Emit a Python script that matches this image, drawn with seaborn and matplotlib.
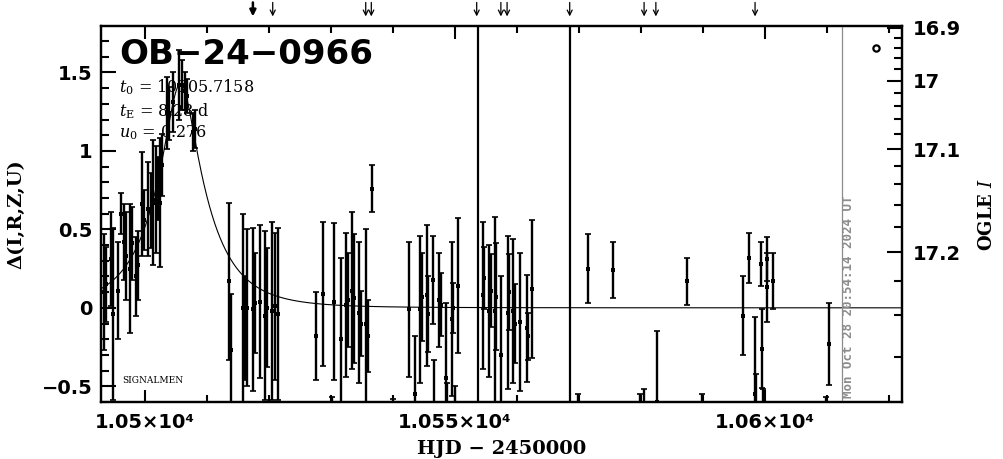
import matplotlib
matplotlib.use("Agg")
import matplotlib.pyplot as plt
import seaborn as sns
from matplotlib.ticker import MultipleLocator, FixedLocator

import numpy as np
import pandas as pd

sns.set_theme(style="ticks")
plt.rcParams['font.family'] = ['DejaVu Sans']
plt.rcParams['mathtext.fontset'] = 'dejavuserif'
for key in ['text.color', 'axes.labelcolor', 'xtick.color', 'ytick.color', 'axes.edgecolor']:
    plt.rcParams[key] = 'black'

# fit parameters shown in the panel
event = "OB\u221224\u22120966"
t0 = 10505.7158
tE = 8.28
u0 = 0.276
fs = 0.087        # source fraction used for the OGLE I scale
I_base = 17.236   # baseline magnitude

# photometry: HJD-2450000, delta, error
hjd = [10493.4, 10493.7, 10494.5, 10494.8, 10495.6, 10496.1, 10496.6, 10496.9, 10497.6, 10497.9,
       10498.5, 10498.9, 10499.5, 10499.8, 10500.5, 10501.0, 10501.3, 10501.8, 10502.1, 10502.4,
       10502.7, 10503.5, 10503.9, 10504.5, 10505.5, 10506.0, 10506.5, 10506.8, 10507.7, 10508.1,
       10513.5, 10513.9, 10515.8, 10516.1, 10516.5, 10517.4, 10517.7, 10518.5, 10519.4, 10519.7,
       10520.5, 10521.0, 10521.5, 10527.6, 10528.7, 10530.2, 10530.5, 10531.6, 10532.4, 10532.7,
       10533.4, 10533.7, 10534.5, 10534.8, 10535.6, 10536.0, 10536.6, 10540.0, 10542.6, 10543.5,
       10544.4, 10544.7, 10545.5, 10545.6, 10546.5, 10546.6, 10547.4, 10547.7, 10548.5, 10548.7,
       10549.5, 10549.7, 10550.0, 10550.5, 10554.5, 10554.7, 10555.5, 10555.8, 10556.5, 10556.6,
       10557.4, 10558.5, 10558.7, 10559.4, 10559.7, 10560.5, 10561.6, 10561.8, 10562.4, 10569.8,
       10571.5, 10575.5, 10579.8, 10580.5, 10582.6, 10587.4, 10589.8, 10596.5, 10597.4, 10598.4,
       10598.5, 10599.4, 10599.5, 10599.7, 10600.3, 10600.4, 10601.3, 10609.8, 10610.3]
delta = [0.10, 0.15, 0.31, -0.04, 0.11, 0.60, 0.42, 0.33, 0.25, 0.41,
         0.20, 0.27, 0.66, 0.56, 0.63, 0.62, 0.67, 0.69, 0.76, 0.67,
         0.91, 1.24, 1.24, 1.31, 1.42, 1.42, 1.38, 1.35, 1.12, 1.14,
         0.17, -0.27, 0.00, -0.13, 0.00, -0.01, 0.03, 0.04, -0.05, 0.00,
         -0.02, 0.01, -0.04, -0.18, 0.09, -0.95, 0.04, -0.20, 0.02, 0.05,
         0.11, 0.06, -0.03, -0.10, -0.10, -0.18, 0.76, -0.95, -0.01, -0.55,
         -0.01, 0.07, 0.08, -0.04, 0.18, -0.80, 0.05, 0.02, -0.45, -0.90,
         -0.07, 0.00, -0.90, 0.14, 0.08, 0.19, -0.02, 0.11, -0.02, 0.07,
         -0.30, -0.03, 0.10, -0.02, -0.10, -0.09, -0.13, -0.18, 0.12, -0.95,
         0.25, 0.24, -0.95, -0.90, -0.60, 0.17, -0.95, -0.05, 0.32, -0.55,
         -0.85, 0.28, -0.26, -0.90, 0.31, 0.13, 0.17, -0.95, -0.23]
err = [0.37, 0.24, 0.30, 0.55, 0.31, 0.13, 0.24, 0.28, 0.41, 0.23,
       0.25, 0.22, 0.33, 0.19, 0.30, 0.24, 0.40, 0.34, 0.20, 0.41,
       0.20, 0.23, 0.17, 0.19, 0.22, 0.16, 0.12, 0.11, 0.12, 0.12,
       0.50, 0.36, 0.60, 0.33, 0.50, 0.52, 0.32, 0.49, 0.54, 0.38,
       0.57, 0.47, 0.55, 0.28, 0.46, 0.38, 0.50, 0.52, 0.46, 0.30,
       0.50, 0.41, 0.45, 0.21, 0.60, 0.23, 0.15, 0.37, 0.43, 0.37,
       0.47, 0.28, 0.45, 0.24, 0.28, 0.47, 0.30, 0.20, 0.48, 0.42,
       0.49, 0.16, 0.40, 0.43, 0.47, 0.20, 0.42, 0.23, 0.60, 0.34,
       0.50, 0.49, 0.24, 0.46, 0.25, 0.44, 0.34, 0.15, 0.44, 0.40,
       0.22, 0.18, 0.40, 0.38, 0.45, 0.15, 0.40, 0.25, 0.16, 0.49,
       0.43, 0.14, 0.25, 0.38, 0.14, 0.22, 0.18, 0.38, 0.26]

# markers above the panel and vertical lines
arrow_t = [10517.4, 10520.6, 10535.6, 10536.5, 10553.5, 10557.4, 10558.4,
           10568.5, 10580.5, 10582.4, 10598.4]
arrow_bold = [10517.4]
vline_t = [10553.7, 10568.5]
now_t = 10612.4
stamp = "Mon Oct 28 20:54:14 2024 UT"
ogle_mark = (10617.9, 1.656)
mag_major = [16.9, 17.0, 17.1, 17.2]

xlim = (10492.9, 10622.1)
ylim = (-0.6, 1.796)

df = pd.DataFrame({'hjd': hjd, 'delta': delta, 'err': err})


def pacz(t):
    u = np.sqrt(u0**2 + ((t - t0) / tE)**2)
    A = (u**2 + 2) / (u * np.sqrt(u**2 + 4))
    return 2.5 * np.log10(A)


def mag_to_delta(I):
    F = 10**(-0.4 * (I - I_base))
    A = 1 + (F - 1) / fs
    return 2.5 * np.log10(A) if A > 0 else np.nan


tt = np.linspace(xlim[0], xlim[1], 1500)
model = pd.DataFrame({'hjd': tt, 'delta': pacz(tt)})

fig, ax = plt.subplots(figsize=(10.04, 4.59), dpi=100)
fig.subplots_adjust(left=0.1006, right=0.8984, bottom=0.1242, top=0.9434)

sns.lineplot(data=model, x='hjd', y='delta', color='black', lw=0.8, ax=ax, zorder=2)
ax.errorbar(df['hjd'], df['delta'], yerr=df['err'], fmt='none', ecolor='black',
            elinewidth=1.7, capsize=2, capthick=1.2, zorder=3)
sns.scatterplot(data=df, x='hjd', y='delta', marker='s', s=5, color='black',
                linewidth=0, ax=ax, zorder=4)

for t in vline_t:
    ax.axvline(t, color='black', lw=1.6, zorder=3)
ax.axvline(now_t, color='#8c8c8c', lw=0.9, zorder=3)
ax.text(now_t + 1.0, -0.575, stamp, rotation=90, ha='center', va='bottom',
        color='#8c8c8c', fontsize=9, fontweight='bold', family='DejaVu Sans Mono')

ax.plot([ogle_mark[0]], [ogle_mark[1]], 'o', ms=4.5, mfc='white', mec='black', mew=1.6)

for t in arrow_t:
    bold = t in arrow_bold
    ax.annotate('', xy=(t, 1.018), xytext=(t, 1.07),
                xycoords=('data', 'axes fraction'), textcoords=('data', 'axes fraction'),
                arrowprops=dict(arrowstyle='->' if not bold else '-|>', lw=1.8 if bold else 0.9,
                                color='black', mutation_scale=9),
                annotation_clip=False)

ax.text(0.023, 0.923, event, transform=ax.transAxes, fontsize=24.5, fontweight='bold',
        va='center', ha='left', zorder=1)
ax.text(0.023, 0.838, r'$t_0$ = 10505.7158', transform=ax.transAxes, fontsize=11.5,
        family='DejaVu Serif', va='center', zorder=1)
ax.text(0.023, 0.774, r'$t_\mathrm{E}$ = 8.28 d', transform=ax.transAxes, fontsize=11.5,
        family='DejaVu Serif', va='center', zorder=1)
ax.text(0.023, 0.715, r'$u_0$ = 0.276', transform=ax.transAxes, fontsize=11.5,
        family='DejaVu Serif', va='center', zorder=1)
ax.text(10496.3, -0.46, 'SIGNALMEN', fontsize=6.5, family='DejaVu Serif', va='center', zorder=1)

ax.set_xlim(xlim)
ax.set_ylim(ylim)
ax.xaxis.set_major_locator(FixedLocator([10500, 10550, 10600]))
ax.set_xticklabels(['1.05\u00d710\u2074', '1.055\u00d710\u2074', '1.06\u00d710\u2074'])
ax.xaxis.set_minor_locator(MultipleLocator(10))
ax.yaxis.set_major_locator(MultipleLocator(0.5))
ax.yaxis.set_minor_locator(MultipleLocator(0.1))
ax.set_yticklabels([f'{v:g}'.replace('-', '\u2212') for v in ax.get_yticks()])
ax.tick_params(axis='both', which='both', direction='in', top=True, right=False, width=1.5)
ax.tick_params(axis='y', which='major', length=11, labelsize=14, pad=6)
ax.tick_params(axis='y', which='minor', length=6)
ax.tick_params(axis='x', which='major', length=9, labelsize=14, pad=8)
ax.tick_params(axis='x', which='minor', length=5)
for lab in ax.get_xticklabels() + ax.get_yticklabels():
    lab.set_fontweight('bold')
ax.set_xlabel('HJD \u2212 2450000', fontsize=14, fontweight='bold', family='DejaVu Serif', labelpad=6)
ax.set_ylabel('\u0394(I,R,Z,U)', fontsize=14, fontweight='bold', family='DejaVu Serif', labelpad=12)

ax2 = ax.twinx()
ax2.set_ylim(ylim)
ax2.yaxis.set_major_locator(FixedLocator([mag_to_delta(m) for m in mag_major]))
ax2.set_yticklabels([f'{m:g}' for m in mag_major])
minor_mags = [round(16.88 + 0.02 * k, 2) for k in range(21)]
minor_pos = [mag_to_delta(m) for m in minor_mags]
ax2.yaxis.set_minor_locator(FixedLocator([p for p in minor_pos if not np.isnan(p)]))
ax2.tick_params(axis='y', which='both', direction='in', width=1.5)
ax2.tick_params(axis='y', which='major', length=11, labelsize=14, pad=8)
ax2.tick_params(axis='y', which='minor', length=6)
for lab in ax2.get_yticklabels():
    lab.set_fontweight('bold')
ax2.set_ylabel('OGLE $\\mathit{I}$', fontsize=13, fontweight='bold', family='DejaVu Serif',
               rotation=90, labelpad=12)

for a in (ax, ax2):
    for s in a.spines.values():
        s.set_linewidth(1.6)
        s.set_color('black')

plt.savefig('out.png', dpi=100)
